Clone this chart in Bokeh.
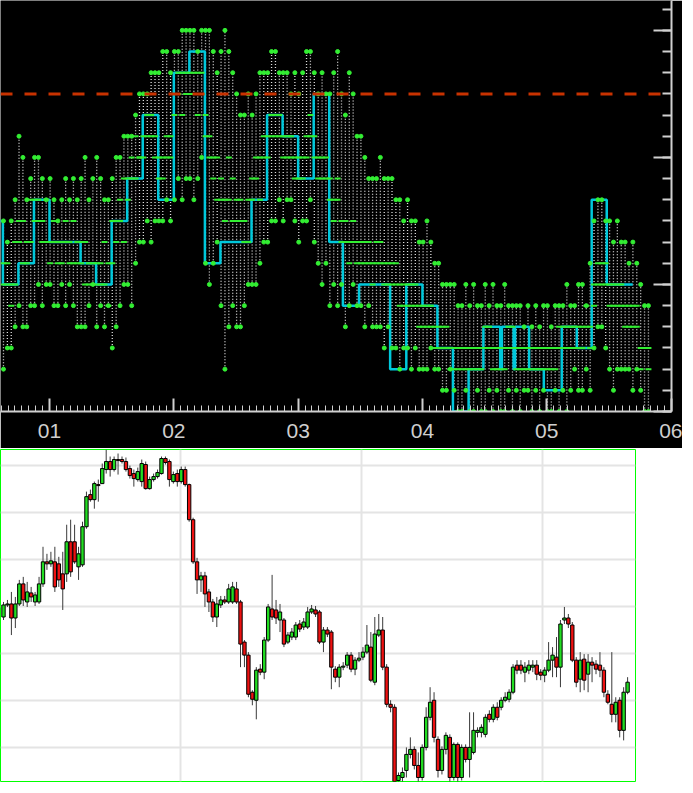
from bokeh.plotting import figure
from bokeh.models import Range1d, LinearAxis, FixedTicker, Span, Grid, ColumnDataSource, PrintfTickFormatter
from bokeh.embed import file_html
from bokeh.resources import INLINE

# ---------------- top panel data ----------------
month_ticks = [1, 2, 3, 4, 5, 6]
level_major = [0, 6, 12, 18]
threshold = 15

cyan_x = [0.59, 0.625, 0.75, 0.875, 1.0, 1.25, 1.375, 1.5, 1.625, 1.75, 1.875, 2.0, 2.125, 2.25,
          2.375, 2.625, 2.75, 2.875, 3.0, 3.125, 3.25, 3.36, 3.49, 3.74, 3.87, 4.0, 4.12, 4.245,
          4.371, 4.49, 4.625, 4.639, 4.733, 4.745, 4.858, 4.976, 5.12, 5.241, 5.361, 5.482, 5.691]
cyan_lvl = [9, 6, 7, 10, 8, 7, 6, 9, 11, 14, 10, 16, 17, 7,
            8, 10, 14, 13, 11, 15, 8, 5, 6, 2, 6, 5, 3, 0,
            2, 4, 2, 4, 2, 4, 2, 1, 4, 3, 10, 6, 6]

bar_hi = [9, 8, 9, 10, 13, 12, 10, 11, 12, 12, 11, 10, 11, 10, 9, 10, 11, 10, 11, 10,
          11, 12, 10, 11, 12, 11, 10, 10, 11, 12, 12, 13, 13, 13, 14, 15, 15, 15, 16, 16,
          16, 17, 17, 16, 17, 17, 18, 18, 18, 18, 17, 18, 18, 18, 17, 16, 17, 18, 17, 16,
          15, 14, 14, 15, 14, 15, 16, 16, 16, 17, 17, 16, 16, 16, 15, 16, 15, 16, 17, 17,
          16, 15, 16, 15, 15, 16, 17, 15, 14, 16, 15, 13, 13, 12, 11, 11, 11, 12, 11, 11,
          11, 10, 10, 9, 10, 9, 9, 8, 8, 9, 8, 7, 7, 6, 6, 6, 6, 5, 5, 6,
          5, 6, 5, 5, 6, 5, 6, 5, 5, 6, 5, 5, 5, 5, 4, 5, 4, 5, 4, 5,
          5, 4, 5, 5, 5, 6, 5, 5, 6, 6, 5, 7, 9, 10, 10, 9, 9, 8, 9, 8,
          8, 7, 8, 7, 6, 5, 5]
bar_lo = [2, 3, 3, 4, 5, 4, 4, 5, 5, 6, 5, 6, 6, 5, 5, 6, 5, 6, 5, 4,
          4, 4, 5, 6, 4, 5, 4, 5, 3, 4, 5, 6, 6, 5, 7, 8, 8, 9, 8, 9,
          9, 9, 10, 9, 10, 11, 10, 11, 11, 10, 11, 12, 7, 6, 7, 8, 5, 2, 4, 5,
          4, 4, 5, 6, 6, 6, 7, 8, 8, 9, 9, 10, 9, 10, 10, 9, 8, 9, 9, 10,
          8, 7, 6, 7, 5, 6, 5, 6, 4, 5, 6, 5, 5, 4, 5, 4, 4, 4, 3, 4,
          3, 3, 2, 3, 3, 2, 3, 2, 2, 2, 3, 2, 2, 1, 1, 2, 1, 0, 0, 1,
          0, 0, 1, 0, 0, 1, 0, 1, 0, 0, 1, 0, 1, 0, 1, 1, 0, 1, 0, 1,
          0, 0, 1, 0, 1, 0, 1, 2, 1, 1, 2, 1, 3, 4, 4, 3, 2, 1, 2, 2,
          2, 2, 1, 2, 1, 0, 0]
bar_open = [6, 7, 5, 6, 8, 9, 7, 8, 10, 9, 8, 10, 8, 9, 7, 8, 8, 7, 9, 8,
            7, 8, 6, 7, 6, 7, 6, 5, 7, 8, 9, 8, 10, 11, 11, 12, 12, 13, 14, 13,
            12, 11, 13, 12, 14, 15, 14, 16, 15, 16, 16, 15, 14, 13, 12, 12, 11, 10, 12, 11,
            9, 10, 9, 8, 10, 11, 10, 12, 12, 13, 14, 13, 13, 12, 13, 12, 11, 12, 12, 13,
            13, 12, 11, 12, 11, 10, 11, 9, 9, 8, 9, 8, 8, 7, 8, 7, 7, 8, 6, 7,
            6, 7, 6, 5, 6, 5, 6, 5, 5, 4, 5, 4, 4, 3, 4, 3, 3, 2, 3, 2,
            2, 3, 2, 3, 3, 4, 3, 2, 3, 2, 3, 4, 3, 2, 3, 2, 2, 3, 2, 3,
            2, 3, 2, 3, 3, 4, 3, 4, 3, 4, 4, 3, 5, 6, 7, 6, 6, 5, 6, 5,
            5, 4, 5, 4, 3, 3, 2]
bar_close = [7, 6, 6, 8, 9, 7, 8, 10, 9, 10, 9, 8, 7, 8, 8, 7, 9, 8, 7, 7,
             8, 6, 7, 6, 7, 6, 8, 7, 9, 9, 10, 11, 11, 12, 13, 12, 13, 14, 13, 12,
             11, 12, 12, 13, 15, 16, 16, 15, 16, 15, 14, 16, 13, 12, 11, 10, 10, 9, 10, 9,
             10, 9, 8, 10, 11, 12, 12, 13, 13, 14, 13, 14, 12, 13, 12, 11, 12, 11, 13, 14,
             12, 11, 12, 11, 10, 9, 10, 8, 8, 7, 8, 7, 7, 8, 7, 6, 8, 7, 7, 6,
             7, 6, 5, 6, 5, 6, 5, 4, 4, 5, 4, 3, 3, 4, 3, 2, 2, 3, 2, 3,
             3, 2, 3, 2, 4, 3, 2, 3, 2, 3, 4, 3, 2, 3, 2, 3, 3, 2, 3, 2,
             3, 2, 3, 4, 4, 3, 4, 3, 4, 3, 5, 4, 6, 7, 6, 7, 5, 6, 5, 6,
             4, 5, 4, 5, 2, 3, 3]
bar_t = [0.63 + i / 32 for i in range(len(bar_hi))]

# ---------------- bottom panel data ----------------
c_open = [175, 187, 188, 174, 188, 208, 190, 199, 190, 190, 208, 230, 228, 230, 228, 218, 218, 250, 250, 225,
          227, 265, 297, 292, 307, 308, 322, 330, 322, 332, 332, 330, 323, 318, 312, 310, 327, 303, 312, 315,
          318, 333, 330, 310, 318, 310, 322, 307, 272, 230, 212, 216, 200, 190, 175, 187, 192, 190, 190, 203,
          190, 150, 137, 100, 92, 123, 120, 152, 183, 182, 172, 172, 150, 155, 155, 168, 165, 165, 180, 182,
          180, 150, 162, 160, 123, 115, 125, 127, 137, 123, 132, 135, 140, 145, 110, 157, 162, 125, 88, 85,
          12, 15, 22, 38, 43, 27, 15, 45, 75, 92, 53, 22, 43, 55, 15, 48, 15, 45, 33, 40,
          60, 60, 58, 78, 73, 85, 85, 92, 93, 100, 127, 127, 120, 122, 125, 127, 120, 117, 122, 132,
          135, 125, 172, 174, 167, 132, 113, 133, 118, 130, 128, 127, 122, 98, 88, 78, 92, 62, 100]
c_close = [187, 188, 174, 188, 208, 192, 200, 195, 197, 208, 230, 228, 231, 205, 212, 203, 250, 220, 230, 238,
           265, 295, 292, 308, 306, 323, 330, 322, 332, 331, 330, 322, 316, 313, 320, 328, 303, 312, 315, 319,
           333, 329, 312, 317, 310, 322, 307, 272, 230, 212, 216, 198, 190, 175, 188, 192, 190, 203, 205, 190,
           148, 137, 98, 93, 122, 120, 152, 185, 175, 174, 180, 148, 157, 160, 167, 163, 170, 180, 183, 178,
           150, 162, 158, 125, 115, 125, 126, 137, 123, 132, 134, 140, 147, 112, 158, 162, 125, 88, 85, 10,
           17, 20, 38, 43, 27, 15, 45, 75, 90, 55, 22, 43, 57, 15, 48, 15, 45, 33, 45, 62,
           62, 65, 75, 73, 85, 75, 92, 95, 100, 125, 122, 122, 125, 127, 127, 118, 117, 122, 132, 137,
           125, 168, 174, 168, 132, 110, 132, 112, 130, 127, 123, 122, 100, 90, 78, 90, 62, 100, 110]
c_high = [190, 192, 200, 195, 212, 215, 210, 205, 200, 215, 245, 238, 240, 245, 235, 240, 267, 272, 267, 245,
          270, 300, 302, 310, 312, 328, 342, 335, 335, 338, 335, 334, 326, 322, 324, 332, 330, 315, 318, 322,
          335, 335, 332, 320, 322, 325, 325, 308, 274, 234, 220, 220, 203, 193, 195, 196, 196, 208, 210, 210,
          192, 152, 140, 102, 125, 128, 155, 188, 217, 192, 188, 174, 160, 164, 170, 172, 174, 185, 187, 186,
          182, 165, 165, 162, 126, 128, 130, 140, 140, 135, 140, 145, 167, 160, 175, 178, 175, 128, 92, 88,
          20, 25, 45, 55, 46, 40, 48, 85, 105, 100, 56, 46, 60, 58, 50, 50, 48, 48, 80, 80,
          65, 68, 78, 82, 88, 90, 95, 100, 103, 128, 132, 132, 130, 132, 132, 132, 123, 125, 150, 145,
          155, 172, 185, 178, 170, 135, 140, 138, 138, 135, 132, 140, 125, 102, 140, 95, 95, 105, 115]
c_low = [172, 185, 157, 164, 186, 186, 185, 190, 186, 188, 205, 222, 225, 200, 205, 182, 210, 215, 228, 212,
         225, 263, 290, 283, 290, 308, 318, 315, 320, 317, 328, 320, 313, 305, 310, 305, 302, 302, 310, 313,
         317, 327, 305, 308, 305, 308, 305, 270, 228, 198, 200, 185, 180, 170, 165, 184, 188, 188, 188, 188,
         125, 125, 95, 87, 73, 117, 113, 150, 172, 168, 160, 145, 148, 152, 152, 160, 162, 163, 178, 175,
         148, 140, 155, 103, 110, 105, 122, 124, 120, 117, 130, 132, 138, 110, 107, 155, 122, 85, 80, 10,
         10, 10, 15, 34, 23, 10, 12, 42, 72, 50, 15, 18, 38, 10, 12, 10, 12, 30, 15, 38,
         55, 55, 55, 70, 70, 72, 82, 90, 90, 98, 118, 118, 110, 118, 120, 112, 112, 110, 120, 115,
         115, 105, 168, 164, 130, 105, 100, 102, 100, 110, 118, 115, 95, 88, 70, 70, 55, 52, 98]
idx = list(range(len(c_open)))
month_grid = [44.8, 90.6, 136.5]
price_grid = [45, 92, 139, 185, 232, 279, 326]

# ---------------- top figure ----------------
top = figure(width=682, height=448, x_range=Range1d(0.606, 6.003), y_range=Range1d(0, 19.41),
             output_backend="svg", toolbar_location=None, x_axis_location=None, y_axis_location=None,
             min_border_left=0, min_border_top=0, min_border_right=11, min_border_bottom=37,
             background_fill_color="black", border_fill_color="black", outline_line_color=None)
top.grid.visible = False

minor_x = [1 + k / 18 for k in range(-7, 91)]
xa = LinearAxis(ticker=FixedTicker(ticks=month_ticks, minor_ticks=minor_x),
                formatter=PrintfTickFormatter(format="%02d"),
                axis_line_color="#d0d0d0", axis_line_width=2,
                major_tick_line_color="#d0d0d0", major_tick_line_width=2,
                minor_tick_line_color="#d0d0d0", minor_tick_line_width=1,
                major_tick_in=13, major_tick_out=0, minor_tick_in=6, minor_tick_out=0,
                major_label_text_color="#cfcfcf", major_label_text_font="Liberation Sans",
                major_label_text_font_size="21px", major_label_standoff=12)
top.add_layout(xa, "below")

ya = LinearAxis(ticker=FixedTicker(ticks=level_major, minor_ticks=list(range(0, 20))),
                axis_line_color="#d0d0d0", axis_line_width=2,
                major_tick_line_color="#d0d0d0", major_tick_line_width=2,
                minor_tick_line_color="#d0d0d0", minor_tick_line_width=2,
                major_tick_in=18, major_tick_out=0, minor_tick_in=9, minor_tick_out=0,
                major_label_text_color=None, major_label_text_font_size="1px",
                major_label_standoff=0)
top.add_layout(ya, "right")

tsrc = ColumnDataSource(dict(t=bar_t, hi=bar_hi, lo=bar_lo, op=bar_open, cl=bar_close))
top.segment(x0="t", y0="lo", x1="t", y1="hi", source=tsrc, line_color="#dcdcdc",
            line_dash="1 2", line_width=1.3)
top.step(cyan_x, cyan_lvl, mode="after", line_color="#00c8dc", line_width=2.5)
top.scatter("t", "op", source=tsrc, marker="dash", size=6, line_color="#33ee33", line_width=2)
top.scatter("t", "cl", source=tsrc, marker="dash", size=6, line_color="#33ee33", line_width=2)
top.scatter("t", "hi", source=tsrc, marker="circle", size=4, fill_color="#33ee33", line_color="#33ee33")
top.scatter("t", "lo", source=tsrc, marker="circle", size=4, fill_color="#33ee33", line_color="#33ee33")
top.add_layout(Span(location=threshold, dimension="width", line_color="#c83200",
                    line_width=3, line_dash="12 12"))

# ---------------- bottom figure ----------------
bot = figure(width=682, height=334, x_range=Range1d(-0.76, 160.0), y_range=Range1d(11, 342),
             output_backend="svg", toolbar_location=None, x_axis_location=None, y_axis_location=None,
             min_border_left=0, min_border_right=47, min_border_top=1, min_border_bottom=1,
             background_fill_color="white", border_fill_color="white",
             outline_line_color="#00ff00", outline_line_width=1)
bot.grid.visible = False
bot.add_layout(Grid(dimension=0, ticker=FixedTicker(ticks=month_grid),
                    grid_line_color="#e4e4e4", grid_line_width=2))
bot.add_layout(Grid(dimension=1, ticker=FixedTicker(ticks=price_grid),
                    grid_line_color="#e4e4e4", grid_line_width=2))

up = dict(x=[], top=[], bottom=[], hi=[], lo=[])
dn = dict(x=[], top=[], bottom=[], hi=[], lo=[])
for i, o, c, h, l in zip(idx, c_open, c_close, c_high, c_low):
    d = up if c >= o else dn
    d["x"].append(i)
    d["top"].append(max(o, c))
    d["bottom"].append(min(o, c))
    d["hi"].append(h)
    d["lo"].append(l)
for d, col in ((up, "#22dd22"), (dn, "#ee1111")):
    s = ColumnDataSource(d)
    bot.segment(x0="x", y0="lo", x1="x", y1="hi", source=s, line_color="#3a3a3a", line_width=1)
    bot.vbar(x="x", top="top", bottom="bottom", width=0.85, source=s,
             fill_color=col, line_color="black", line_width=1)

open("out.html", "w").write(file_html([top, bot], INLINE))
